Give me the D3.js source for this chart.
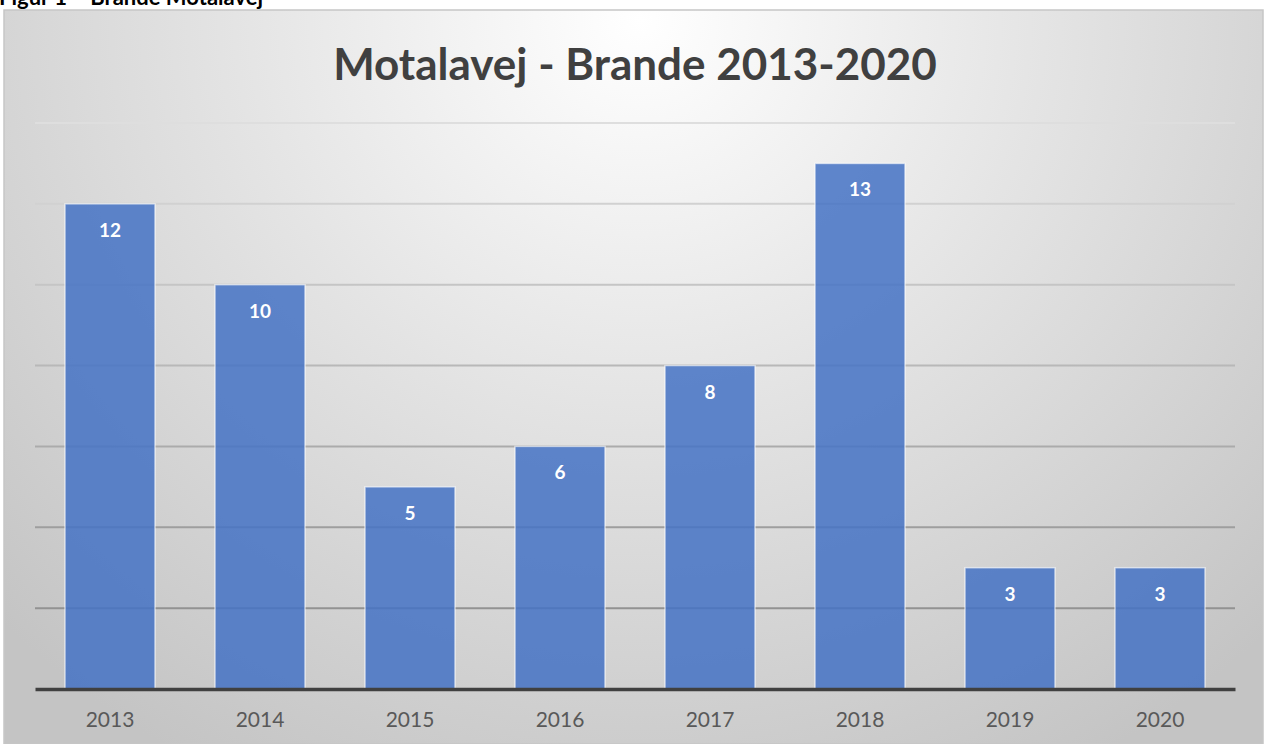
<!DOCTYPE html>
<html>
  <head>
    <meta charset="utf-8">
    <title>Motalavej - Brande 2013-2020</title>
    <script src="https://cdnjs.cloudflare.com/ajax/libs/d3/7.8.5/d3.min.js"></script>
    <style>
      body { margin: 0; background: #fff; }
      svg { display: block; }
    </style>
  </head>
  <body>
  <script>
  // data
  var years = ["2013", "2014", "2015", "2016", "2017", "2018", "2019", "2020"];
  var counts = [12, 10, 5, 6, 8, 13, 3, 3];
  var yTicks = [0, 2, 4, 6, 8, 10, 12, 14];

  var W = 1264, H = 744;
  var box = {x: 4, y: 10, w: 1259, h: 734};
  var margin = {left: 35, right: 29, top: 123, bottom: 55};

  var svg = d3.select("body").append("svg")
      .attr("width", W)
      .attr("height", H);

  var defs = svg.append("defs");
  var grad = defs.append("radialGradient")
      .attr("id", "bg")
      .attr("gradientUnits", "userSpaceOnUse")
      .attr("cx", 640).attr("cy", 20)
      .attr("r", 900)
      .attr("gradientTransform", "translate(640,20) scale(1,0.95) translate(-640,-20)");
  grad.append("stop").attr("offset", "0%").attr("stop-color", "#ffffff");
  grad.append("stop").attr("offset", "45%").attr("stop-color", "#e4e4e4");
  grad.append("stop").attr("offset", "100%").attr("stop-color", "#c4c4c4");

  // caption above the chart (cut off at the top, as in the source page)
  svg.append("text")
      .attr("x", -1).attr("y", 5)
      .style("font-family", "Lato, 'Open Sans', sans-serif")
      .style("font-weight", "bold")
      .style("font-size", "22px")
      .attr("fill", "#000")
      .text("Figur 1 – Brande Motalavej");

  svg.append("rect")
      .attr("x", box.x).attr("y", box.y)
      .attr("width", box.w).attr("height", box.h)
      .attr("fill", "url(#bg)")
      .attr("stroke", "#c6c6c6")
      .attr("stroke-width", 1.5);

  var x = d3.scaleBand()
      .domain(years)
      .range([margin.left, W - margin.right])
      .paddingInner(0.4)
      .paddingOuter(0.2);

  var y = d3.scaleLinear()
      .domain([0, 14])
      .range([H - margin.bottom, margin.top]);

  // gridlines, darker towards the bottom
  var gridColor = d3.scaleLinear().domain([14, 0]).range(["#dedede", "#858585"]);
  svg.append("g")
      .selectAll("line")
      .data(yTicks.filter(function(d) { return d > 0; }))
      .enter()
      .append("line")
      .attr("x1", margin.left)
      .attr("x2", W - margin.right)
      .attr("y1", function(d) { return y(d); })
      .attr("y2", function(d) { return y(d); })
      .attr("stroke", function(d) { return gridColor(d); })
      .attr("stroke-width", 2);

  // bars
  svg.append("g")
      .selectAll("rect")
      .data(counts)
      .enter()
      .append("rect")
      .attr("x", function(d, i) { return x(years[i]); })
      .attr("width", x.bandwidth())
      .attr("y", function(d) { return y(d); })
      .attr("height", function(d) { return y(0) - y(d); })
      .attr("fill", "#4472c4")
      .attr("fill-opacity", 0.85)
      .attr("stroke", "#ffffff")
      .attr("stroke-opacity", 0.6)
      .attr("stroke-width", 1.5);

  // value labels
  svg.append("g")
      .selectAll("text")
      .data(counts)
      .enter()
      .append("text")
      .attr("x", function(d, i) { return x(years[i]) + x.bandwidth() / 2; })
      .attr("y", function(d) { return y(d) + 33; })
      .attr("text-anchor", "middle")
      .style("font-family", "Lato, 'Open Sans', sans-serif")
      .style("font-weight", "bold")
      .style("font-size", "19px")
      .attr("fill", "#ffffff")
      .text(function(d) { return d; });

  // x axis
  var xAxis = d3.axisBottom(x).tickSize(0).tickPadding(23);
  var gx = svg.append("g")
      .attr("transform", "translate(0," + y(0) + ")")
      .call(xAxis);
  gx.select(".domain")
      .attr("stroke", "#404040")
      .attr("stroke-width", 3.5);
  gx.selectAll("text")
      .style("font-family", "Lato, 'Open Sans', sans-serif")
      .style("font-size", "21px")
      .attr("fill", "#595959");

  // title
  svg.append("text")
      .attr("x", 635).attr("y", 80)
      .attr("text-anchor", "middle")
      .style("font-family", "Lato, 'Open Sans', sans-serif")
      .style("font-weight", "bold")
      .style("font-size", "44px")
      .attr("fill", "#404040")
      .text("Motalavej - Brande 2013-2020");
  </script>
  </body>
</html>
